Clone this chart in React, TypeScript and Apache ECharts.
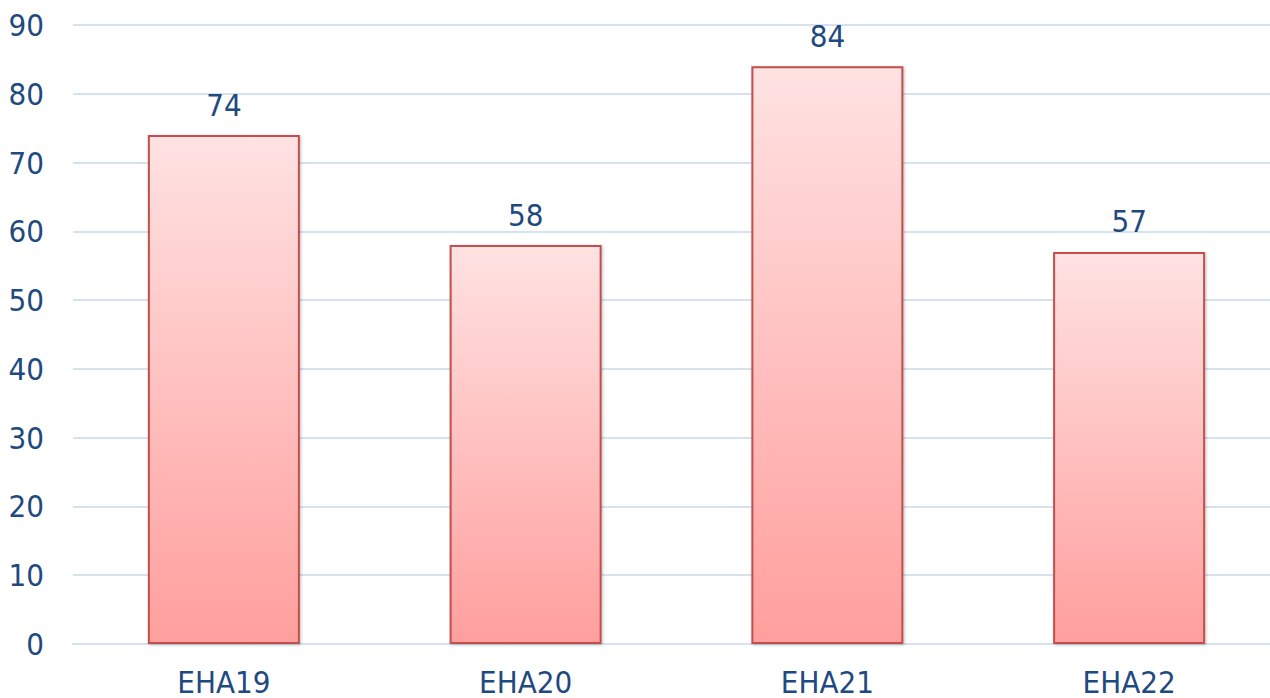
import React, { useEffect, useRef } from "react";
import * as echarts from "echarts";

const categories = ["EHA19", "EHA20", "EHA21", "EHA22"];
const values = [74, 58, 84, 57];
const yTicks = { min: 0, max: 90, interval: 10 };

const textColor = "#1F4A80";
const fontFamily = "'DejaVu Sans Condensed', 'DejaVu Sans', sans-serif";
const fontSize = 31;

export default function App() {
  const ref = useRef<HTMLDivElement>(null);
  useEffect(() => {
    if (!ref.current) return;
    const chart = echarts.init(ref.current, undefined, { renderer: "svg" });
    chart.setOption({
      animation: false,
      backgroundColor: "#ffffff",
      grid: { left: 73, top: 25, bottom: 54, width: 1207 },
      xAxis: {
        type: "category",
        data: categories,
        axisLine: { show: true, lineStyle: { color: "#D6E2F0", width: 2 } },
        axisTick: { show: false },
        axisLabel: { color: textColor, fontSize, fontFamily, margin: 22, lineHeight: 31 },
      },
      yAxis: {
        type: "value",
        min: yTicks.min,
        max: yTicks.max,
        interval: yTicks.interval,
        axisLine: { show: false },
        axisTick: { show: false },
        axisLabel: { color: textColor, fontSize, fontFamily, margin: 29 },
        splitLine: { lineStyle: { color: "#D6E2F0", width: 2 } },
      },
      series: [
        {
          type: "bar",
          data: values,
          barWidth: 152,
          itemStyle: {
            color: new echarts.graphic.LinearGradient(0, 0, 0, 1, [
              { offset: 0, color: "#FFE2E2" },
              { offset: 1, color: "#FF9F9D" },
            ]),
            borderColor: "#C0504D",
            borderWidth: 2,
            shadowColor: "rgba(0,0,0,0.25)",
            shadowBlur: 3,
            shadowOffsetX: 1,
            shadowOffsetY: 1,
          },
          label: {
            show: true,
            position: "top",
            distance: 15,
            color: textColor,
            fontSize,
            fontFamily,
            lineHeight: 31,
          },
        },
      ],
    });
    return () => chart.dispose();
  }, []);
  return (
    <div
      style={{
        position: "fixed",
        left: 0,
        top: 0,
        width: 1270,
        height: 698,
        overflow: "hidden",
        background: "#fff",
      }}
    >
      <div ref={ref} style={{ width: 1290, height: 698 }} />
    </div>
  );
}
